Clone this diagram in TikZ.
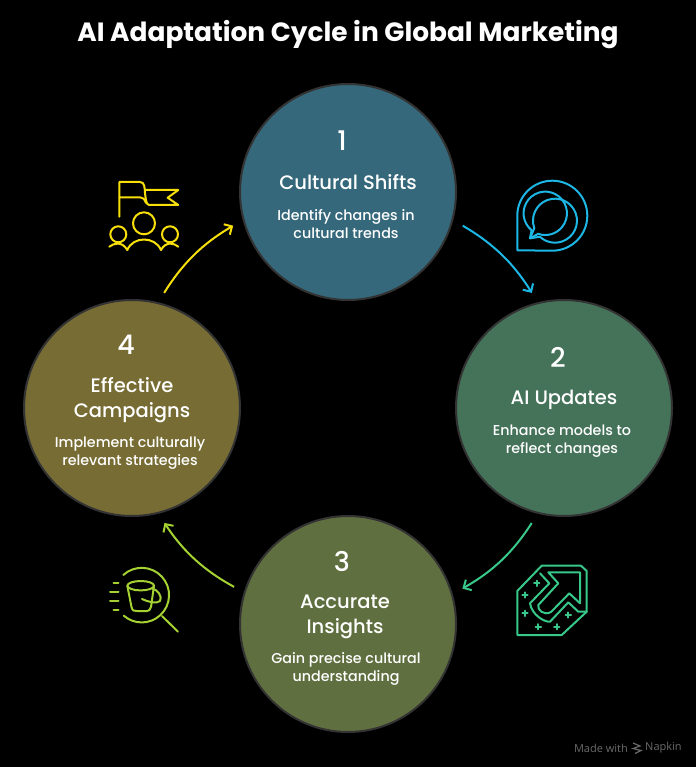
\documentclass[tikz,border=0pt]{standalone}
\usepackage{fontspec}
\setmainfont{Poppins}[UprightFont=* Medium, BoldFont=* Bold]
\newfontfamily\markfont{Open Sans}
\usetikzlibrary{arrows.meta}
\definecolor{cultfill}{HTML}{35687B}
\definecolor{aifill}{HTML}{44735A}
\definecolor{accfill}{HTML}{5F6F3F}
\definecolor{effill}{HTML}{776C33}
\definecolor{ringgray}{HTML}{333333}
\definecolor{bluelin}{HTML}{1DB7E6}
\definecolor{greenlin}{HTML}{38C88A}
\definecolor{limelin}{HTML}{A5D232}
\definecolor{yellowlin}{HTML}{F7DF0A}
\definecolor{markgray}{HTML}{6A6A6A}

\begin{document}
\begin{tikzpicture}[
        x=1pt, y=-1pt,
        stage/.style={
        circle, draw=ringgray, line width=2pt,
        inner sep=0pt, minimum size=216pt},
        num/.style={text=white, font=\fontsize{27}{30}\selectfont},
        head/.style={text=white, align=center, font=\fontsize{19.5}{24.5}\selectfont},
        desc/.style={text=white, align=center, font=\fontsize{14.3}{17.5}\selectfont},
        link/.style={line width=2pt, -{Straight Barb[length=6pt,width=12pt]},
        shorten <=11pt, shorten >=11pt},
        icon/.style={line width=2pt, line join=round, line cap=round},
        ]

        \fill[black] (0,0) rectangle (696,767);
        \useasboundingbox (0,0) rectangle (696,767);

        \node (title) [text=white, font=\fontsize{26.4}{30}\selectfont\bfseries] at (348,35){AI Adaptation Cycle in Global Marketing};

        \node (cult) [stage, fill=cultfill] at (348,192){};
        \node (ai) [stage, fill=aifill] at (564,408){};
        \node (acc) [stage, fill=accfill] at (348,624){};
        \node (eff) [stage, fill=effill] at (132,408){};

        \node (cultnum) [num] at (342,141){1};
        \node (culthead) [head] at (348,182){Cultural Shifts};
        \node (cultdesc) [desc] at (346,224){Identify changes in\\cultural trends};

        \node (ainum) [num] at (558,357){2};
        \node (aihead) [head] at (564,400){AI Updates};
        \node (aidesc) [desc] at (562,441){Enhance models to\\reflect changes};

        \node (accnum) [num] at (342,561){3};
        \node (acchead) [head] at (345,617){Accurate\\Insights};
        \node (accdesc) [desc] at (346,669){Gain precise cultural\\understanding};

        \node (effnum) [num] at (126,345){4};
        \node (effhead) [head] at (132,400){Effective\\Campaigns};
        \node (effdesc) [desc] at (130,453){Implement culturally\\relevant strategies};

        \draw [link, bluelin] (cult.-15) to[bend left=14] (ai.104);
        \draw [link, greenlin] (ai.-104) to[bend left=14] (acc.16);
        \draw [link, limelin] (acc.163) to[bend left=14] (eff.-76);
        \draw [link, yellowlin] (eff.76) to[bend left=14] (cult.195);

        % chat icon
        \begin{scope}[icon, bluelin]
        \draw (517.3,250.3) -- (517.3,215.7) arc[start angle=180, end angle=450, radius=35] -- cycle;
        \draw (530,238.3) -- (531.6,230.2) arc[start angle=129, end angle=469, radius=21.7] -- cycle;
        \draw (530,238.3) -- (534.3,228.2) arc[start angle=160, end angle=493, radius=22] -- cycle;
        \end{scope}

        % arrow icon
        \begin{scope}[icon, greenlin]
        \draw (517.3,591) -- (541.7,565.7) -- (581,565.7) -- (586.7,571) -- (586.7,611.7) -- (561.7,635) -- (517.3,635) -- cycle;
        \draw (548.3,572.3) -- (580,572.3) -- (580,603.3) -- (569.3,593.3) -- (551,612) .. controls (544,616) and (537,610) .. (538.3,605) -- (558.3,583.3) -- cycle;
        \draw (540,573.3) -- (549.3,583.3) -- (530,603.3) .. controls (532,615) and (544,622) .. (550,621.7) -- (568.3,602.3) -- (578.3,611.7) -- (586.7,611.7);
        \foreach \sx/\sy in {536.7/583.3, 525/595, 525/613.3, 538.3/626.7, 556.7/626.7, 568.3/615}
            \draw (\sx-2.7,\sy) -- (\sx+2.7,\sy) (\sx,\sy-2.7) -- (\sx,\sy+2.7);
        \end{scope}

        % bucket icon
        \begin{scope}[icon, limelin]
        \draw (123.3,575) arc[start angle=227.5, end angle=491, radius=27.3];
        \draw (162,616) -- (178,631.7);
        \draw (113.5,582.7) -- (118.5,582.7) (110,591.7) -- (118.5,591.7) (110,600.7) -- (118.5,600.7) (113.5,609.7) -- (118.5,609.7);
        \draw (140.7,585.7) ellipse[x radius=13.3, y radius=4.7];
        \draw (127.3,585.7) -- (131.5,607 ) .. controls (132.5,611) and (134,611) .. (137,611) -- (147,611) .. controls (149,611) and (150,610) .. (151,607) -- (154,585.7);
        \draw (142,599) .. controls (148,602) and (157,604) .. (160,601) .. controls (163,597) and (157,589) .. (153,589);
        \end{scope}

        % team icon
        \begin{scope}[icon, yellowlin]
        \draw (119.3,216.7) -- (119.3,182) -- (140,182) .. controls (145,182) and (144.5,188) .. (145,193) .. controls (145.5,197) and (146,205) .. (149,205) -- (178.3,205) -- (167.7,197.7) -- (178.3,190) -- (145,190);
        \draw (119.3,197.3) -- (140,197.3) .. controls (143,197.3) and (144.5,199) .. (146,203);
        \draw (144,223.3) circle[radius=11];
        \draw (118.3,234.3) circle[radius=8];
        \draw (170,234.3) circle[radius=8];
        \draw (109.3,246.7) .. controls (114,243) and (122,241) .. (127.3,250);
        \draw (127.3,250) .. controls (133,236) and (155,236) .. (161,250);
        \draw (161,250) .. controls (166,241) and (174,243) .. (178.3,246.7);
        \end{scope}

        % watermark
        \node (made) [text=markgray, anchor=east, font=\markfont\fontsize{11}{12}\selectfont, inner sep=0pt] at (628,748){Made with};
        \node (napkin) [text=markgray, anchor=west, font=\markfont\fontsize{11}{12}\selectfont, inner sep=0pt] at (645,748){Napkin};
        \draw [markgray, line width=1.2pt] (633,743) -- (640,746) -- (633,748.5) -- (641,750.5) -- (635,753.5);
    \end{tikzpicture}
\end{document}
